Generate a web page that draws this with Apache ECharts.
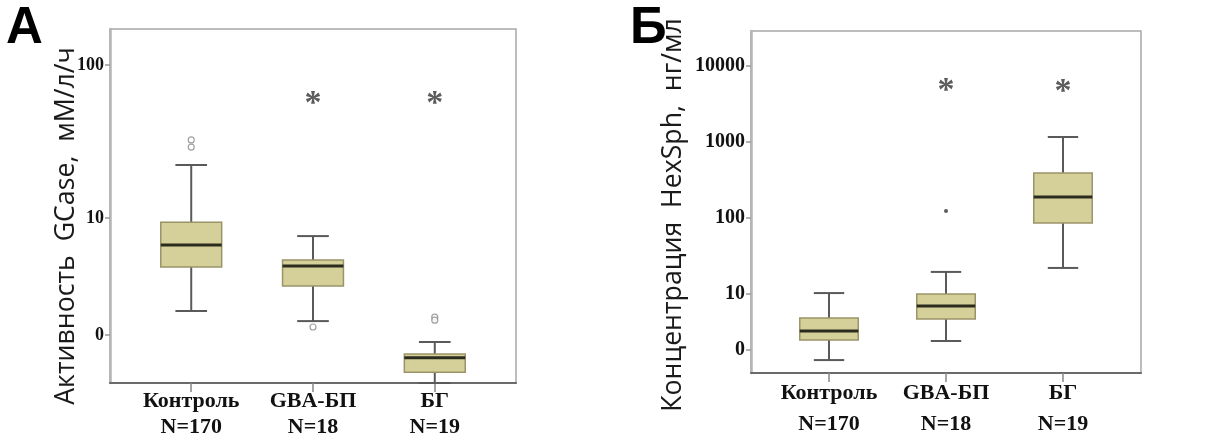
<!DOCTYPE html>
<html><head><meta charset="utf-8">
<script src="https://cdn.jsdelivr.net/npm/echarts@6/dist/echarts.min.js"></script>
<style>html,body{margin:0;padding:0;background:#fff}#c{width:1219px;height:446px}</style>
</head><body><div id="c"></div>
<script>
// ---- data ----
const groups = ['Контроль', 'GBA-БП', 'БГ'];
const groupN = ['N=170', 'N=18', 'N=19'];

// GCase activity, [min, Q1, median, Q3, max]
const gcaseBoxes = [
  [2.47, 4.79, 6.67, 9.4, 22.2],
  [2.12, 3.59, 4.85, 5.31, 7.62],
  [0.835, 0.98, 1.22, 1.29, 1.55]
];
const gcaseOutliers = [[1, 32.4], [1, 29.1], [2, 1.94], [3, 2.25], [3, 2.15]];
const gcaseStars = [[2, 63], [3, 63]];
const gcaseTickLabels = ['0', '10', '100'];
const gcaseTickValues = [1.72, 10, 100];
const gcaseRange = [0.835, 172];

// HexSph concentration, [min, Q1, median, Q3, max]
const hexBoxes = [
  [1.36, 2.49, 3.27, 4.85, 10.3],
  [2.42, 4.70, 6.97, 10.0, 19.5],
  [22.0, 85.7, 188, 388, 1151]
];
const hexOutliers = [[2, 123]];
const hexStars = [[2, 5900], [3, 5600]];
const hexTickLabels = ['0', '10', '100', '1000', '10000'];
const hexTickValues = [1.84, 10, 100, 1000, 10000];
const hexRange = [0.92, 28300];

// ---- build ----
const L = v => Math.log10(v);
const boxData = arr => arr.map((b, i) => [i + 1].concat(b.map(L)));
const ptData = arr => arr.map(p => [p[0], L(p[1])]);

function renderBox(params, api) {
  const x = api.value(0);
  const vMin = api.value(1), q1 = api.value(2), med = api.value(3), q3 = api.value(4), vMax = api.value(5);
  const half = 0.25, cap = 0.13;
  const pTL = api.coord([x - half, q3]);
  const pBR = api.coord([x + half, q1]);
  const pMed1 = api.coord([x - half, med]), pMed2 = api.coord([x + half, med]);
  const pTop = api.coord([x, vMax]), pBot = api.coord([x, vMin]);
  const pQ3 = api.coord([x, q3]), pQ1 = api.coord([x, q1]);
  const c1 = api.coord([x - cap, vMax]), c2 = api.coord([x + cap, vMax]);
  const c3 = api.coord([x - cap, vMin]), c4 = api.coord([x + cap, vMin]);
  const wStyle = {stroke: '#5a5a5a', lineWidth: 2};
  return {
    type: 'group',
    children: [
      {type: 'line', shape: {x1: pTop[0], y1: pTop[1], x2: pQ3[0], y2: pQ3[1]}, style: wStyle},
      {type: 'line', shape: {x1: pBot[0], y1: pBot[1], x2: pQ1[0], y2: pQ1[1]}, style: wStyle},
      {type: 'line', shape: {x1: c1[0], y1: c1[1], x2: c2[0], y2: c2[1]}, style: wStyle},
      {type: 'line', shape: {x1: c3[0], y1: c3[1], x2: c4[0], y2: c4[1]}, style: wStyle},
      {type: 'rect', shape: {x: pTL[0], y: pTL[1], width: pBR[0] - pTL[0], height: pBR[1] - pTL[1]},
        style: {fill: '#d5d09a', stroke: '#9a9468', lineWidth: 1.5}},
      {type: 'line', shape: {x1: pMed1[0], y1: pMed1[1], x2: pMed2[0], y2: pMed2[1]},
        style: {stroke: '#2b2b1e', lineWidth: 3}}
    ]
  };
}

function xAxisFor(gi, lh) {
  return {
    type: 'value', gridIndex: gi, min: 0.333, max: 3.667,
    splitLine: {show: false},
    axisLine: {show: true, onZero: false, lineStyle: {color: '#6a6a6a', width: 2}},
    axisTick: {show: true, customValues: [1, 2, 3], length: 9, lineStyle: {color: '#888', width: 1.5}},
    axisLabel: {
      customValues: [1, 2, 3], margin: 5,
      formatter: v => '{a|' + groups[Math.round(v) - 1] + '}\n{a|' + groupN[Math.round(v) - 1] + '}',
      rich: {a: {fontFamily: 'Liberation Serif', fontWeight: 'bold', fontSize: 22, lineHeight: lh, color: '#111'}}
    }
  };
}
function yAxisFor(gi, range, tv, tl, fs) {
  return {
    type: 'value', gridIndex: gi, min: L(range[0]), max: L(range[1]),
    splitLine: {show: false},
    axisLine: {show: true, onZero: false, lineStyle: {color: '#b5b5b5', width: 2.5}},
    axisTick: {show: true, customValues: tv.map(L), length: 5, lineStyle: {color: '#999', width: 1.5}},
    axisLabel: {
      customValues: tv.map(L), margin: 6,
      formatter: v => { let k = 0, d = 1e9; tv.forEach((t, i) => { const e = Math.abs(L(t) - v); if (e < d) { d = e; k = i; } }); return tl[k]; },
      fontFamily: 'Liberation Serif', fontWeight: 'bold', fontSize: fs, color: '#111'
    }
  };
}
function starSeries(xi, yi, data) {
  return {
    type: 'scatter', xAxisIndex: xi, yAxisIndex: yi, data: ptData(data),
    symbolSize: 1, itemStyle: {color: 'rgba(0,0,0,0)'}, silent: true,
    label: {show: true, position: 'inside', formatter: '*', fontFamily: 'Liberation Serif', fontWeight: 'bold', fontSize: 34, color: '#333', offset: [0, 8]}
  };
}

const option = {
  animation: false,
  grid: [
    {left: 110, top: 29, width: 406, height: 354, show: true, borderColor: '#a8a8a8', borderWidth: 1.5},
    {left: 751, top: 31, width: 390, height: 342, show: true, borderColor: '#a8a8a8', borderWidth: 1.5}
  ],
  xAxis: [xAxisFor(0, 26), xAxisFor(1, 31)],
  yAxis: [yAxisFor(0, gcaseRange, gcaseTickValues, gcaseTickLabels, 18), yAxisFor(1, hexRange, hexTickValues, hexTickLabels, 20)],
  graphic: [
    {type: 'text', left: 6, top: 3, style: {text: 'А', fontFamily: 'Liberation Sans', fontWeight: 'bold', fontSize: 51, fill: '#000'}},
    {type: 'text', left: 630, top: 3, style: {text: 'Б', fontFamily: 'Liberation Sans', fontWeight: 'bold', fontSize: 51, fill: '#000'}},
    {type: 'text', x: 66, y: 226, rotation: Math.PI / 2, style: {text: 'Активность  GCase,  мМ/л/ч', fontFamily: 'Open Sans', fontSize: 26.7, fill: '#1a1a1a', align: 'center', verticalAlign: 'middle'}},
    {type: 'text', x: 673, y: 215, rotation: Math.PI / 2, style: {text: 'Концентрация  HexSph,  нг/мл', fontFamily: 'Open Sans', fontSize: 26.7, fill: '#1a1a1a', align: 'center', verticalAlign: 'middle'}}
  ],
  series: [
    {type: 'custom', xAxisIndex: 0, yAxisIndex: 0, data: boxData(gcaseBoxes), renderItem: renderBox, encode: {x: 0, y: [1, 2, 3, 4, 5]}},
    {type: 'scatter', xAxisIndex: 0, yAxisIndex: 0, data: ptData(gcaseOutliers), symbol: 'circle', symbolSize: 6,
      itemStyle: {color: '#fff', borderColor: '#8a8a8a', borderWidth: 1.2}},
    starSeries(0, 0, gcaseStars),
    {type: 'custom', xAxisIndex: 1, yAxisIndex: 1, data: boxData(hexBoxes), renderItem: renderBox, encode: {x: 0, y: [1, 2, 3, 4, 5]}},
    {type: 'scatter', xAxisIndex: 1, yAxisIndex: 1, data: ptData(hexOutliers), symbol: 'circle', symbolSize: 4,
      itemStyle: {color: '#333'}},
    starSeries(1, 1, hexStars)
  ]
};
const chart = echarts.init(document.getElementById('c'), null, {renderer: 'canvas'});
chart.setOption(option);
</script></body></html>
